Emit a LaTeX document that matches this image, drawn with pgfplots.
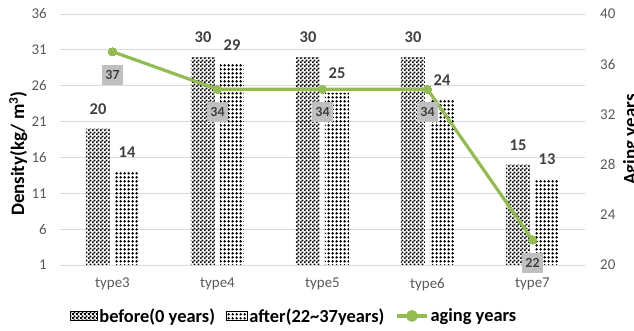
\documentclass[border=0pt]{standalone}
\usepackage{fontspec}
\setmainfont{Carlito}
\usepackage{pgfplots}
\pgfplotsset{compat=1.18}
\usetikzlibrary{patterns}

\definecolor{agegreen}{RGB}{146,188,80}
\definecolor{tickgray}{RGB}{89,89,89}
\definecolor{labgray}{RGB}{64,64,64}
\definecolor{boxgray}{RGB}{191,191,191}
\definecolor{gridgray}{RGB}{217,217,217}

% checkerboard for the "before" bars
\pgfdeclarepatternformonly{fcheck}{\pgfpointorigin}{\pgfpoint{4bp}{4bp}}{\pgfpoint{4bp}{4bp}}{%
  \pgfpathrectangle{\pgfpointorigin}{\pgfpoint{2.15bp}{2.15bp}}%
  \pgfpathrectangle{\pgfpoint{2bp}{2bp}}{\pgfpoint{2.15bp}{2.15bp}}%
  \pgfusepath{fill}}
% dot grid for the "after" bars
\pgfdeclarepatternformonly{fdots}{\pgfpointorigin}{\pgfpoint{3.6bp}{3.6bp}}{\pgfpoint{3.6bp}{3.6bp}}{%
  \pgfpathcircle{\pgfpoint{1.8bp}{1.8bp}}{1.4bp}%
  \pgfusepath{fill}}

\newcommand{\tickfont}{\fontsize{15}{18}\selectfont}
\newcommand{\valfont}{\bfseries\fontsize{16.5}{19}\selectfont}
\newcommand{\legfont}{\bfseries\fontsize{18.5}{21}\selectfont}
\newcommand{\labfont}{\bfseries\fontsize{19}{22}\selectfont}

\begin{document}
\begin{tikzpicture}
\begin{axis}[
  name=main,
  at={(0,0)}, anchor=south west,
  scale only axis, width=525bp, height=251bp,
  xmin=-0.5, xmax=4.5, ymin=1, ymax=36,
  xtick={0,...,4}, xticklabels={type3,type4,type5,type6,type7},
  ytick={1,6,...,36},
  ymajorgrids, grid style={gridgray, line width=0.8bp},
  axis line style={draw=none},
  major tick length=0pt,
  /pgf/number format/assume math mode=true,
  ticklabel style={font=\tickfont, text=tickgray},
  yticklabel style={inner sep=0pt, xshift=-13bp},
  xticklabel style={inner sep=0pt, yshift=-13bp},
  ybar, bar width=24bp,
  nodes near coords,
  every node near coord/.append style={font=\valfont, text=labgray, anchor=south, inner sep=0pt, yshift=14bp},
]
\addplot[bar shift=-14.5bp, draw=none, pattern=fcheck, pattern color=black]
  coordinates {(0,20) (1,30) (2,30) (3,30) (4,15)};
\addplot[bar shift=14.5bp, draw=none, pattern=fdots, pattern color=black]
  coordinates {(0,14) (1,29) (2,25) (3,24) (4,13)};
\end{axis}

\begin{axis}[
  name=sec,
  at={(0,0)}, anchor=south west,
  scale only axis, width=525bp, height=251bp,
  xmin=-0.5, xmax=4.5, ymin=20, ymax=40,
  ytick={20,24,...,40},
  xtick=\empty,
  axis x line=none,
  axis y line*=right,
  axis line style={draw=none},
  major tick length=0pt,
  /pgf/number format/assume math mode=true,
  ticklabel style={font=\tickfont, text=tickgray},
  yticklabel style={inner sep=0pt, xshift=15bp},
  clip=false,
  legend columns=3,
  legend cell align=left,
  legend style={draw=none, fill=none, inner sep=0pt, outer sep=0pt,
    at={(axis description cs:0.019,-0.203)}, anchor=west,
    font=\legfont, text=black,
    /tikz/every even column/.append style={column sep=9bp}},
]
\addlegendimage{legend image code/.code={%
  \fill[pattern=fcheck, pattern color=black] (0bp,-4.5bp) rectangle (27bp,4.5bp);}}
\addlegendentry{before(0 years)}
\addlegendimage{legend image code/.code={%
  \fill[pattern=fdots, pattern color=black] (0bp,-4.5bp) rectangle (21bp,4.5bp);}}
\addlegendentry{after(22\textasciitilde37years)}
\addplot[color=agegreen, line width=3.2bp, mark=*, mark size=4.2bp,
  mark options={fill=agegreen, draw=agegreen, line width=0pt},
  nodes near coords,
  every node near coord/.append style={font=\bfseries\fontsize{14}{16}\selectfont,
    text=labgray, fill=boxgray, anchor=north, inner sep=0pt,
    minimum width=21bp, minimum height=20bp, yshift=-13bp},
  legend image code/.code={%
    \draw[agegreen, line width=3.2bp] (0bp,0bp) -- (30bp,0bp);
    \fill[agegreen] (15bp,0bp) circle (4.2bp);}]
  coordinates {(0,37) (1,34) (2,34) (3,34) (4,22)};
\addlegendentry{aging years}
\end{axis}

\node[rotate=90, anchor=north, inner sep=0pt, font=\labfont, text=black]
  at ([xshift=-51bp, yshift=-14bp]main.west) {Density(kg/ m\textsuperscript{3})};
\node[rotate=90, anchor=north, inner sep=0pt, font=\labfont, text=black]
  at ([xshift=38bp]sec.east) {Aging years};

\pgfresetboundingbox
\path[use as bounding box] (-60bp,-66bp) rectangle (574bp,265bp);
\end{tikzpicture}
\end{document}
